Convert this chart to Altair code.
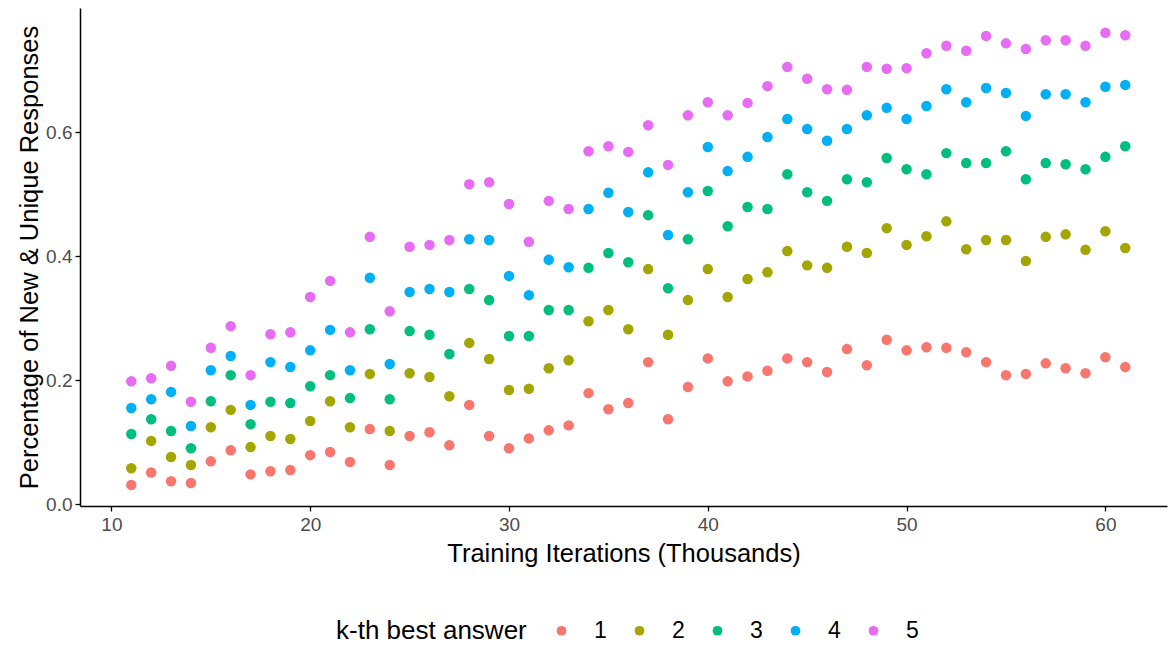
import altair as alt
import pandas as pd

iters = [11, 12, 13, 14, 15, 16, 17, 18, 19, 20,
         21, 22, 23, 24, 25, 26, 27, 28, 29, 30,
         31, 32, 33, 34, 35, 36, 37, 38, 39, 40,
         41, 42, 43, 44, 45, 46, 47, 48, 49, 50,
         51, 52, 53, 54, 55, 56, 57, 58, 59, 60, 61]

k1 = [0.031, 0.051, 0.037, 0.034, 0.069, 0.087, 0.048, 0.053, 0.055, 0.079,
      0.084, 0.068, 0.121, 0.063, 0.110, 0.116, 0.095, 0.160, 0.110, 0.090,
      0.106, 0.119, 0.127, 0.179, 0.153, 0.163, 0.229, 0.137, 0.189, 0.235,
      0.198, 0.206, 0.215, 0.235, 0.229, 0.213, 0.250, 0.224, 0.265, 0.248,
      0.253, 0.252, 0.245, 0.229, 0.208, 0.210, 0.227, 0.219, 0.211, 0.237, 0.221]

k2 = [0.058, 0.102, 0.076, 0.063, 0.124, 0.152, 0.092, 0.110, 0.105, 0.134,
      0.166, 0.124, 0.210, 0.118, 0.211, 0.205, 0.174, 0.260, 0.234, 0.184,
      0.186, 0.219, 0.232, 0.295, 0.313, 0.282, 0.379, 0.273, 0.329, 0.379,
      0.334, 0.363, 0.374, 0.408, 0.385, 0.381, 0.415, 0.405, 0.445, 0.418,
      0.432, 0.456, 0.411, 0.426, 0.426, 0.392, 0.431, 0.435, 0.410, 0.440, 0.413]

k3 = [0.113, 0.137, 0.118, 0.090, 0.166, 0.208, 0.129, 0.165, 0.163, 0.190,
      0.208, 0.171, 0.282, 0.169, 0.279, 0.273, 0.242, 0.347, 0.329, 0.271,
      0.271, 0.313, 0.313, 0.381, 0.405, 0.390, 0.466, 0.348, 0.427, 0.505,
      0.448, 0.479, 0.476, 0.532, 0.503, 0.489, 0.524, 0.519, 0.558, 0.540,
      0.532, 0.566, 0.550, 0.550, 0.569, 0.524, 0.550, 0.548, 0.540, 0.560, 0.577]

k4 = [0.155, 0.169, 0.181, 0.126, 0.216, 0.239, 0.160, 0.229, 0.221, 0.248,
      0.281, 0.216, 0.365, 0.226, 0.342, 0.347, 0.342, 0.427, 0.426, 0.368,
      0.337, 0.394, 0.382, 0.476, 0.502, 0.471, 0.535, 0.434, 0.503, 0.576,
      0.537, 0.560, 0.592, 0.621, 0.605, 0.586, 0.605, 0.627, 0.639, 0.621,
      0.642, 0.669, 0.648, 0.671, 0.663, 0.626, 0.661, 0.661, 0.648, 0.673, 0.676]

k5 = [0.198, 0.203, 0.223, 0.165, 0.252, 0.287, 0.208, 0.274, 0.277, 0.334,
      0.360, 0.277, 0.431, 0.311, 0.415, 0.418, 0.426, 0.516, 0.519, 0.484,
      0.423, 0.489, 0.476, 0.569, 0.577, 0.568, 0.611, 0.547, 0.627, 0.648,
      0.627, 0.647, 0.674, 0.705, 0.686, 0.669, 0.668, 0.705, 0.702, 0.703,
      0.727, 0.739, 0.731, 0.755, 0.743, 0.734, 0.748, 0.748, 0.739, 0.760, 0.756]

k_labels = ["1", "2", "3", "4", "5"]
k_colors = ["#F8766D", "#A3A500", "#00BF7D", "#00B0F6", "#E76BF3"]
x_ticks = [10, 20, 30, 40, 50, 60]
y_ticks = [0.0, 0.2, 0.4, 0.6]

rows = []
for lab, vals in zip(k_labels, [k1, k2, k3, k4, k5]):
    for it, v in zip(iters, vals):
        rows.append({"iter": it, "pct": v, "k": lab})
df = pd.DataFrame(rows)

FONT = "Liberation Sans"

chart = alt.Chart(df).mark_circle(size=110, opacity=1).encode(
    x=alt.X("iter:Q",
            scale=alt.Scale(domain=[8.42, 63.1], nice=False, zero=False),
            axis=alt.Axis(values=x_ticks, format="d",
                          title="Training Iterations (Thousands)",
                          labelPadding=4, titlePadding=7)),
    y=alt.Y("pct:Q",
            scale=alt.Scale(domain=[-0.003, 0.8], nice=False, zero=False),
            axis=alt.Axis(values=y_ticks, format=".1f",
                          title="Percentage of New & Unique Responses",
                          labelPadding=3, titlePadding=3)),
    color=alt.Color("k:N",
                    scale=alt.Scale(domain=k_labels, range=k_colors),
                    legend=alt.Legend(title="k-th best answer", orient="none",
                                      direction="horizontal",
                                      legendX=256, legendY=611,
                                      titleOrient="left", titlePadding=23,
                                      titleLimit=500,
                                      titleFontSize=26, titleFontWeight="normal",
                                      titleColor="black", titleFont=FONT,
                                      titleBaseline="middle",
                                      labelFontSize=23, labelColor="black",
                                      labelFont=FONT, labelOffset=21,
                                      columnPadding=21,
                                      symbolType="circle", symbolSize=95,
                                      symbolStrokeWidth=0, symbolOpacity=1))
).properties(
    width=1087, height=498,
    autosize=alt.AutoSizeParams(type="none"),
    padding={"left": 80, "top": 8, "right": 2, "bottom": 139}
).configure_view(
    stroke=None
).configure_axis(
    grid=False,
    domainColor="black", domainWidth=1.5,
    tickColor="black", tickWidth=1.3, tickSize=5,
    labelColor="#4D4D4D", labelFontSize=19, labelFont=FONT,
    titleColor="black", titleFontSize=25.5, titleFont=FONT,
    titleFontWeight="normal"
)

chart.save("out.html", embed_options={"renderer": "svg", "actions": False})
